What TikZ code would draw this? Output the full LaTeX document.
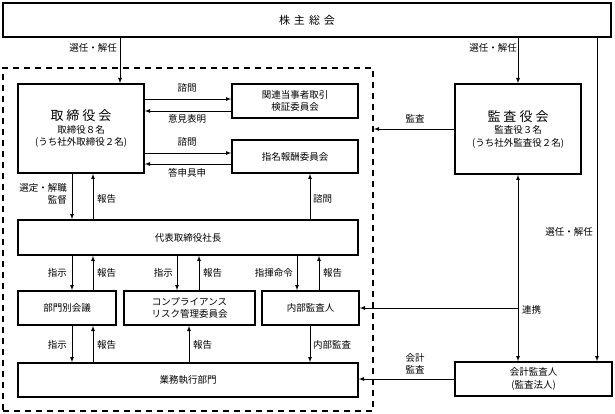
\documentclass[tikz,border=0pt]{standalone}
\usepackage{fontspec}
\setmainfont{Noto Sans CJK JP}
\usetikzlibrary{arrows,calc}

\begin{document}
\begin{tikzpicture}[x=1pt,y=-1pt]
\tikzstyle{box}=[rectangle, draw=black, line width=1.6pt, inner sep=0pt, align=center, font=\fontsize{9.5}{12.5}\selectfont]
\tikzstyle{group}=[rectangle, draw=black, line width=1.6pt, dash pattern=on 6pt off 5pt, inner sep=0pt]
\tikzstyle{connect}=[-latex, line width=0.8pt]
\tikzstyle{both}=[latex-latex, line width=0.8pt]
\tikzstyle{lbl}=[inner sep=0pt, align=center, font=\fontsize{9.5}{12.5}\selectfont]

\useasboundingbox (0,0) rectangle (615,414);

  % company group
  \node[group, minimum width=370pt, minimum height=343pt] (grp) at (188,239.5) {};

  \node[box, minimum width=608pt, minimum height=34pt] (share) at (307,20)
    {\fontsize{11}{13}\selectfont 株\hspace{4pt}主\hspace{4pt}総\hspace{4pt}会};
  \node[box, minimum width=126pt, minimum height=89pt] (board) at (81,128.5)
    {{\fontsize{13}{17}\selectfont 取\hspace{3pt}締\hspace{3pt}役\hspace{3pt}会}\\取締役８名\\(うち社外取締役２名)};
  \node[box, minimum width=126pt, minimum height=34pt] (rpt) at (295,101) {関連当事者取引\\検証委員会};
  \node[box, minimum width=126pt, minimum height=33pt] (nomi) at (295,156.5) {指名報酬委員会};
  \node[box, minimum width=340pt, minimum height=35pt] (ceo) at (188,237.5) {代表取締役社長};
  \node[box, minimum width=98pt, minimum height=34pt] (dept) at (67,308) {部門別会議};
  \node[box, minimum width=131pt, minimum height=34pt] (comp) at (189.5,308) {コンプライアンス\\リスク管理委員会};
  \node[box, minimum width=97pt, minimum height=34pt] (audit) at (310.5,308) {内部監査人};
  \node[box, minimum width=340pt, minimum height=34pt] (ops) at (188,380) {業務執行部門};
  \node[box, minimum width=126pt, minimum height=90pt] (kansa) at (518,129)
    {{\fontsize{13}{17}\selectfont 監\hspace{3pt}査\hspace{3pt}役\hspace{3pt}会}\\監査役３名\\(うち社外監査役２名)};
  \node[box, minimum width=157pt, minimum height=34pt] (acc) at (533.5,379) {会計監査人\\(監査法人)};

  \path (share.south -| 120,0) edge [connect] (board.north -| 120,0)
        (share.south -| kansa.north) edge [connect] (kansa.north)
        (share.south -| 597,0) edge [connect] (acc.north -| 597,0)
        (board.east |- 0,99) edge [connect] (rpt.west |- 0,99)
        (rpt.west |- 0,111) edge [connect] (board.east |- 0,111)
        (board.east |- 0,153) edge [connect] (nomi.west |- 0,153)
        (nomi.west |- 0,164) edge [connect] (board.east |- 0,164)
        (board.south -| 72,0) edge [connect] (ceo.north -| 72,0)
        (ceo.north -| 93,0) edge [connect] (board.south -| 93,0)
        (ceo.north -| 310,0) edge [connect] (nomi.south -| 310,0)
        (ceo.south -| 72,0) edge [connect] (dept.north -| 72,0)
        (dept.north -| 93,0) edge [connect] (ceo.south -| 93,0)
        (ceo.south -| 177,0) edge [connect] (comp.north -| 177,0)
        (comp.north -| 199,0) edge [connect] (ceo.south -| 199,0)
        (ceo.south -| 297,0) edge [connect] (audit.north -| 297,0)
        (audit.north -| 319,0) edge [connect] (ceo.south -| 319,0)
        (dept.south -| 72,0) edge [connect] (ops.north -| 72,0)
        (ops.north -| 93,0) edge [connect] (dept.south -| 93,0)
        (ops.north -| 189,0) edge [connect] (comp.south -| 189,0)
        (audit.south -| 310,0) edge [connect] (ops.north -| 310,0)
        (kansa.west) edge [connect] (grp.east |- kansa.west)
        (kansa.south) edge [both] (acc.north -| kansa.south)
        (kansa.south |- audit.east) edge [connect] (audit.east)
        (acc.west) edge [connect] (acc.west -| ops.east);

  % labels
  \node[lbl] (sel1) at (93,48) {選任・解任};
  \node[lbl] (sel2) at (493,48) {選任・解任};
  \node[lbl] (sel3) at (569,232) {選任・解任};
  \node[lbl] (ask1) at (187,88) {諮問};
  \node[lbl] (opin) at (187,119) {意見表明};
  \node[lbl] (ask2) at (187,142) {諮問};
  \node[lbl] (resp) at (187,173) {答申具申};
  \node[lbl, anchor=east, align=right] (supv) at (67,194) {選定・解職\\監督};
  \node[lbl, anchor=west] (rep1) at (97,199) {報告};
  \node[lbl, anchor=west] (ask3) at (313,199) {諮問};
  \node[lbl, anchor=east] (ins1) at (67,273) {指示};
  \node[lbl, anchor=west] (rep2) at (97,273) {報告};
  \node[lbl, anchor=east] (ins2) at (173,273) {指示};
  \node[lbl, anchor=west] (rep3) at (203,273) {報告};
  \node[lbl, anchor=east] (cmd) at (293,273) {指揮命令};
  \node[lbl, anchor=west] (rep4) at (323,273) {報告};
  \node[lbl, anchor=east] (ins3) at (67,345) {指示};
  \node[lbl, anchor=west] (rep5) at (97,345) {報告};
  \node[lbl, anchor=west] (rep6) at (193,345) {報告};
  \node[lbl, anchor=west] (inaud) at (313,345) {内部監査};
  \node[lbl] (aud) at (415,119) {監査};
  \node[lbl] (accaud) at (415,364) {会計\\監査};
  \node[lbl, anchor=west] (coop) at (522,310) {連携};

\end{tikzpicture}
\end{document}
